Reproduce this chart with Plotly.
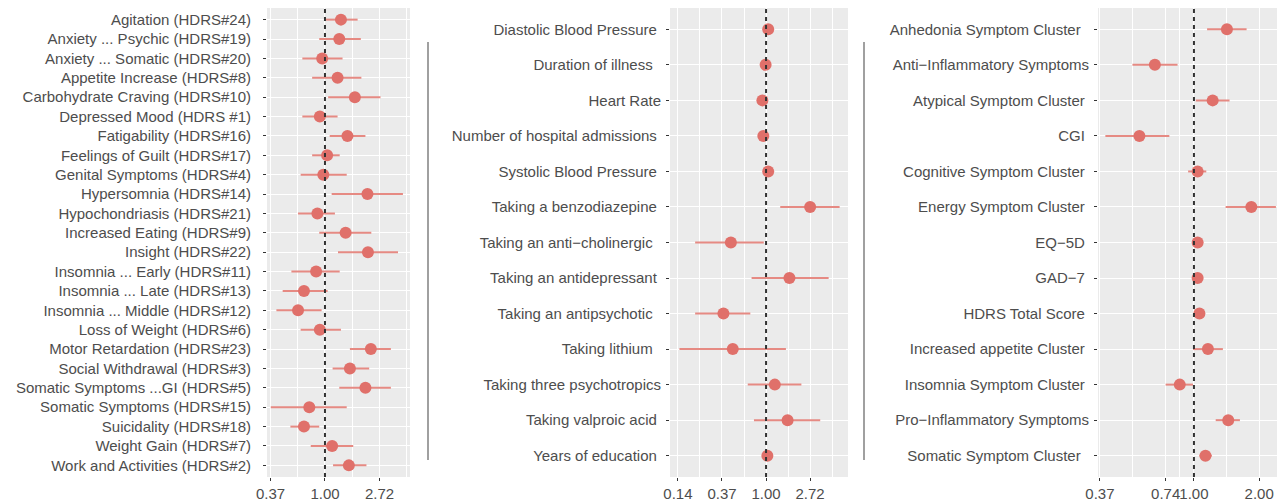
import math
import plotly.graph_objects as go

NB = "\u00a0"

# ---------------- Panel 1: HDRS items ----------------
p1_labels = [
    "Agitation (HDRS#24)", "Anxiety ... Psychic (HDRS#19)", "Anxiety ... Somatic (HDRS#20)",
    "Appetite Increase (HDRS#8)", "Carbohydrate Craving (HDRS#10)", "Depressed Mood (HDRS #1)",
    "Fatigability (HDRS#16)", "Feelings of Guilt (HDRS#17)", "Genital Symptoms (HDRS#4)",
    "Hypersomnia (HDRS#14)", "Hypochondriasis (HDRS#21)", "Increased Eating (HDRS#9)",
    "Insight (HDRS#22)", "Insomnia ... Early (HDRS#11)", "Insomnia ... Late (HDRS#13)",
    "Insomnia ... Middle (HDRS#12)", "Loss of Weight (HDRS#6)", "Motor Retardation (HDRS#23)",
    "Social Withdrawal (HDRS#3)", "Somatic Symptoms ...GI (HDRS#5)", "Somatic Symptoms (HDRS#15)",
    "Suicidality (HDRS#18)", "Weight Gain (HDRS#7)", "Work and Activities (HDRS#2)",
]
p1_or = [1.34, 1.30, 0.95, 1.26, 1.73, 0.91, 1.51, 1.04, 0.97, 2.18, 0.87, 1.46,
         2.20, 0.85, 0.68, 0.61, 0.91, 2.32, 1.58, 2.10, 0.75, 0.68, 1.14, 1.55]
p1_lo = [1.02, 0.90, 0.66, 0.79, 1.06, 0.66, 1.09, 0.79, 0.64, 1.13, 0.61, 0.90,
         1.27, 0.54, 0.46, 0.41, 0.64, 1.58, 1.15, 1.30, 0.37, 0.53, 0.77, 1.16]
p1_hi = [1.82, 1.93, 1.38, 1.95, 2.77, 1.26, 2.10, 1.31, 1.49, 4.18, 1.20, 2.34,
         3.82, 1.31, 1.05, 0.94, 1.34, 3.35, 2.25, 3.35, 1.49, 0.90, 1.68, 2.14]

# ---------------- Panel 2: clinical / medication ----------------
p2_labels = [
    "Diastolic Blood Pressure" + NB, "Duration of illness" + NB * 2, "Heart Rate",
    "Number of hospital admissions" + NB, "Systolic Blood Pressure" + NB,
    "Taking a benzodiazepine" + NB, "Taking an anti\u2212cholinergic" + NB * 2,
    "Taking an antidepressant" + NB, "Taking an antipsychotic" + NB * 2,
    "Taking lithium" + NB * 2, "Taking three psychotropics",
    "Taking valproic acid" + NB, "Years of education" + NB,
]
p2_or = [1.05, 0.99, 0.92, 0.94, 1.05, 2.72, 0.45, 1.70, 0.38, 0.47, 1.22, 1.63, 1.03]
p2_lo = [1.02, 0.97, 0.90, 0.91, 1.03, 1.38, 0.20, 0.72, 0.20, 0.14, 0.66, 0.76, 1.00]
p2_hi = [1.08, 1.01, 0.95, 0.97, 1.07, 5.31, 0.95, 4.14, 0.70, 1.57, 2.23, 3.42, 1.06]

# ---------------- Panel 3: symptom clusters / scales ----------------
p3_labels = [
    "Anhedonia Symptom Cluster" + NB * 2, "Anti\u2212Inflammatory Symptoms",
    "Atypical Symptom Cluster" + NB, "CGI" + NB, "Cognitive Symptom Cluster" + NB,
    "Energy Symptom Cluster" + NB, "EQ\u22125D" + NB, "GAD\u22127" + NB,
    "HDRS Total Score" + NB, "Increased appetite Cluster" + NB,
    "Insomnia Symptom Cluster" + NB, "Pro\u2212Inflammatory Symptoms",
    "Somatic Symptom Cluster" + NB * 2,
]
p3_or = [1.42, 0.66, 1.22, 0.56, 1.04, 1.84, 1.04, 1.04, 1.06, 1.16, 0.86, 1.44, 1.13]
p3_lo = [1.15, 0.52, 1.02, 0.39, 0.94, 1.40, 1.01, 0.98, 1.01, 0.99, 0.74, 1.26, 1.06]
p3_hi = [1.75, 0.84, 1.46, 0.77, 1.14, 2.39, 1.07, 1.10, 1.12, 1.36, 0.99, 1.63, 1.21]

# tick labels (log scale)
p1_ticks = [math.exp(-1), 1.0, math.exp(1)]
p1_ticktext = ["0.37", "1.00", "2.72"]
p2_ticks = [math.exp(-2), math.exp(-1), 1.0, math.exp(1)]
p2_ticktext = ["0.14", "0.37", "1.00", "2.72"]
p3_ticks = [math.exp(-1), 0.74, 1.0, 2.0]
p3_ticktext = ["0.37", "0.74", "1.00", "2.00"]

# ---------------- styling ----------------
POINT_COLOR = "#E0706A"
LINE_COLOR = "#E68A83"
TEXT_COLOR = "#4D4D4D"
BG = "#EBEBEB"
FONT = "Liberation Sans, Arial, sans-serif"
FS = 15

# page body has an 8px margin: figure is placed at (8, 8)
OFF = 8
W, H = 1285 - OFF, 501 - OFF


def px(x):
    return (x - OFF) / W


def py(y):
    return (H - (y - OFF)) / H


panels = [
    dict(labels=p1_labels, or_=p1_or, lo=p1_lo, hi=p1_hi, ticks=p1_ticks, tt=p1_ticktext,
         dom=[px(267), px(410)], xr=[-1.064, 1.56], standoff=9),
    dict(labels=p2_labels, or_=p2_or, lo=p2_lo, hi=p2_hi, ticks=p2_ticks, tt=p2_ticktext,
         dom=[px(670), px(848)], xr=[-2.18, 1.86], standoff=2),
    dict(labels=p3_labels, or_=p3_or, lo=p3_lo, hi=p3_hi, ticks=p3_ticks, tt=p3_ticktext,
         dom=[px(1098), px(1282)], xr=[-1.02, 0.936], standoff=2),
]

ydom = [py(477), py(8)]
LN10 = math.log(10)

fig = go.Figure()
layout = dict(
    width=W, height=H,
    margin=dict(l=0, r=0, t=0, b=0),
    paper_bgcolor="white", plot_bgcolor=BG,
    showlegend=False,
    font=dict(family=FONT, size=FS, color=TEXT_COLOR),
    template="none",
)

shapes = []
for i, p in enumerate(panels):
    k = "" if i == 0 else str(i + 1)
    xa, ya = "x" + k, "y" + k
    err_plus = [h - v for h, v in zip(p["hi"], p["or_"])]
    err_minus = [v - l for v, l in zip(p["or_"], p["lo"])]
    fig.add_trace(go.Scatter(
        x=p["or_"], y=p["labels"], mode="markers",
        marker=dict(size=12, color=POINT_COLOR, line=dict(width=0)),
        error_x=dict(type="data", symmetric=False, array=err_plus, arrayminus=err_minus,
                     color=LINE_COLOR, thickness=2, width=0),
        xaxis=xa, yaxis=ya, hoverinfo="skip",
    ))
    lt = [math.log(t) for t in p["ticks"]]
    step = lt[1] - lt[0]
    minors = [lt[0] - step / 2] + [(a + b) / 2 for a, b in zip(lt[:-1], lt[1:])] + [lt[-1] + (lt[-1] - lt[-2]) / 2]
    minors = [math.exp(m) for m in minors if p["xr"][0] < m < p["xr"][1]]
    n = len(p["labels"])
    layout["xaxis" + k] = dict(
        domain=p["dom"], anchor=ya, type="log",
        range=[p["xr"][0] / LN10, p["xr"][1] / LN10],
        tickmode="array", tickvals=p["ticks"], ticktext=p["tt"], tickangle=0,
        ticks="outside", ticklen=3, tickwidth=1, tickcolor="#333333",
        tickfont=dict(size=FS, color=TEXT_COLOR, family=FONT),
        showgrid=True, gridcolor="white", gridwidth=1.1,
        minor=dict(tickmode="array", tickvals=minors, showgrid=True,
                   gridcolor="white", gridwidth=0.55, ticks=""),
        zeroline=False, showline=False, automargin=False, fixedrange=True,
    )
    layout["yaxis" + k] = dict(
        domain=ydom, anchor=xa, type="category",
        categoryorder="array", categoryarray=list(reversed(p["labels"])),
        range=[-0.6, n - 0.4],
        ticks="outside", ticklen=3, tickwidth=1, tickcolor="#333333",
        ticklabelstandoff=p["standoff"],
        tickfont=dict(size=FS, color=TEXT_COLOR, family=FONT),
        showgrid=True, gridcolor="white", gridwidth=1.1,
        zeroline=False, showline=False, automargin=False, fixedrange=True,
    )
    shapes.append(dict(type="line", xref=xa, yref=ya + " domain", x0=1, x1=1, y0=0, y1=1,
                       line=dict(color="#333333", width=2, dash="4px,4px"), layer="above"))

for xs in [428, 864]:
    shapes.append(dict(type="line", xref="paper", yref="paper",
                       x0=px(xs), x1=px(xs), y0=py(460), y1=py(42),
                       line=dict(color="#A0A0A0", width=2)))

layout["shapes"] = shapes
fig.update_layout(**layout)
fig.write_html("out.html")
